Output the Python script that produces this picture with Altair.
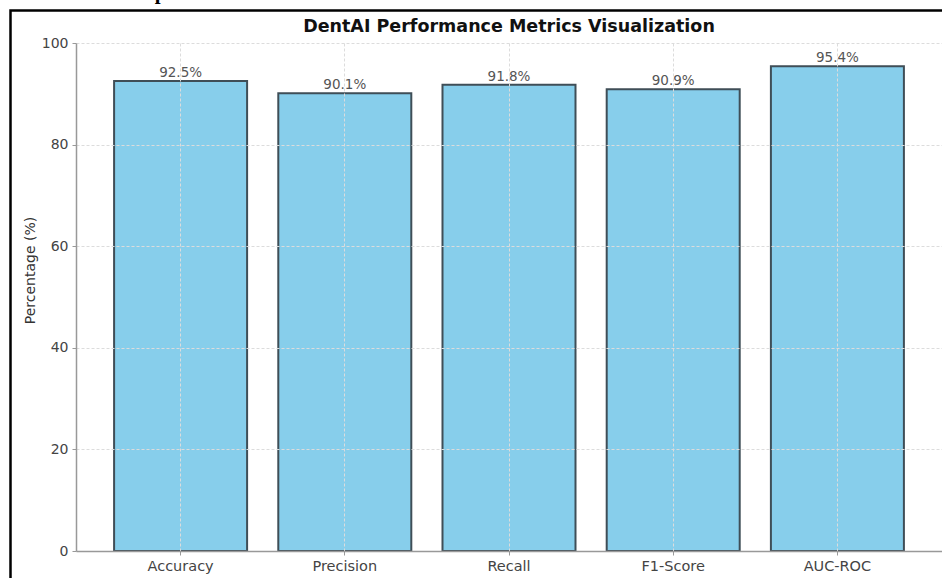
import altair as alt
import pandas as pd

metrics = ["Accuracy", "Precision", "Recall", "F1-Score", "AUC-ROC"]
values = [92.5, 90.1, 91.8, 90.9, 95.4]
value_labels = ["92.5%", "90.1%", "91.8%", "90.9%", "95.4%"]
y_ticks = [0, 20, 40, 60, 80, 100]

title_text = "DentAI Performance Metrics Visualization"
y_title = "Percentage (%)"
top_caption = "Results and interpretation"

df = pd.DataFrame({"metric": metrics, "value": values, "label": value_labels})

x_enc = alt.X(
    "metric:N",
    sort=metrics,
    scale=alt.Scale(paddingInner=0.19, paddingOuter=0.232),
    axis=alt.Axis(
        title=None, labelAngle=0, labelFontSize=14.5, labelFont="DejaVu Sans",
        labelColor="#444", labelPadding=4, grid=True, gridColor="#dcdcdc",
        gridDash=[3, 2], gridWidth=1, domainColor="#999", domainWidth=1.5,
        tickColor="#999", tickSize=4, zindex=1,
    ),
)
y_enc = alt.Y(
    "value:Q",
    scale=alt.Scale(domain=[0, 100], nice=False),
    axis=alt.Axis(
        values=y_ticks, title=y_title, titleFontSize=14, titleFontWeight="normal",
        titleFont="DejaVu Sans", titleColor="#333", titleAngle=-90,
        titleX=-46, titleY=227, titleAlign="center", titleBaseline="middle",
        labelFontSize=14, labelFont="DejaVu Sans", labelColor="#444",
        labelPadding=4, grid=True, gridColor="#dcdcdc", gridDash=[3, 2],
        gridWidth=1, domainColor="#999", domainWidth=1.5, tickColor="#999",
        tickSize=4, zindex=1,
    ),
)

bars = alt.Chart(df).mark_bar(
    color="#87CEEB", stroke="#3f4e57", strokeWidth=2
).encode(x=x_enc, y=y_enc)

labels = alt.Chart(df).mark_text(
    dy=-4, baseline="alphabetic", fontSize=13.5, font="DejaVu Sans", color="#555"
).encode(x=alt.X("metric:N", sort=metrics), y="value:Q", text="label:N")

title = alt.Chart(pd.DataFrame({"t": [title_text]})).mark_text(
    fontSize=17.5, fontWeight="bold", font="DejaVu Sans", color="#111",
    baseline="alphabetic", align="center"
).encode(x=alt.value(433), y=alt.value(-11), text="t:N")

caption = alt.Chart(pd.DataFrame({"t": [top_caption]})).mark_text(
    fontSize=21, fontWeight="bold", font="Liberation Serif", color="#000",
    baseline="alphabetic", align="left"
).encode(x=alt.value(-74), y=alt.value(-44), text="t:N")

frame = alt.Chart(pd.DataFrame({"f": [0]})).mark_rect(
    fill="transparent", stroke="#000", strokeWidth=2.5
).encode(x=alt.value(-65.5), x2=alt.value(900), y=alt.value(-32.5), y2=alt.value(560))

chart = alt.layer(bars, labels, title, caption, frame).properties(
    width=866, height=508,
    autosize=alt.AutoSizeParams(type="none"),
    padding={"left": 76, "top": 43, "right": 0, "bottom": 27},
).configure_view(stroke=None)

chart.save("out.html", embed_options={"renderer": "svg", "actions": False})
